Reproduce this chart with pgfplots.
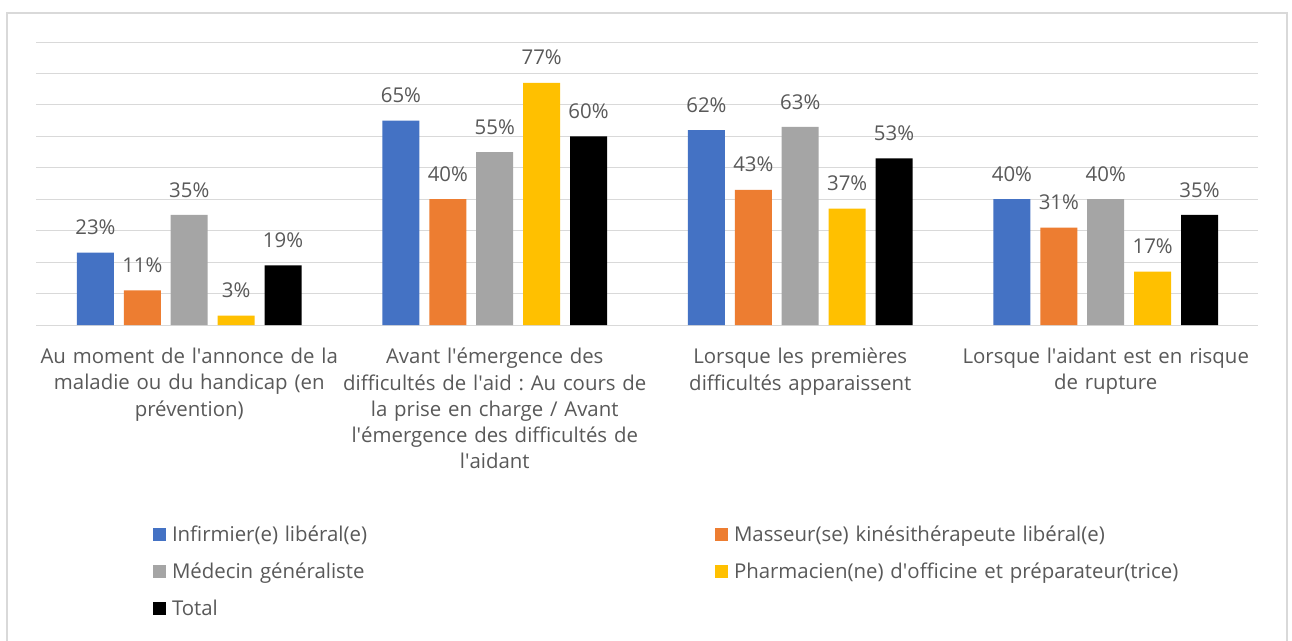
\documentclass[border=0pt]{standalone}
\usepackage{fontspec}
\setmainfont{Open Sans}
\usepackage{pgfplots}
\pgfplotsset{compat=1.18}
\definecolor{cblue}{HTML}{4472C4}
\definecolor{corange}{HTML}{ED7D31}
\definecolor{cgray}{HTML}{A5A5A5}
\definecolor{cyellow}{HTML}{FFC000}
\definecolor{cblack}{HTML}{000000}
\definecolor{txt}{HTML}{595959}
\definecolor{grd}{HTML}{D9D9D9}
\newcommand\fs{\fontsize{20.4bp}{26.2bp}\selectfont\frenchspacing}
\newcommand\q{\textquotesingle}
\pgfplotsset{sq/.style={draw=none, legend image code/.code={\fill[##1] (0bp,0bp) rectangle (13bp,13bp);}}}
\begin{document}
\frenchspacing
\begin{tikzpicture}
\useasboundingbox (0,0) rectangle (1292bp,-641bp);
\fill[white] (0,0) rectangle (1292bp,-641bp);
\draw[grd, line width=1.3bp] (7bp,-13bp) rectangle (1287bp,-700bp);
\begin{axis}[
  at={(36.5bp,-325bp)}, anchor=south west,
  scale only axis, width=1222bp, height=283bp,
  xmin=-0.5, xmax=3.5, ymin=0, ymax=90,
  ybar=9.9bp, bar width=37bp,
  xtick={0,1,2,3},
  xticklabels={{Au moment de l\q annonce de la\\maladie ou du handicap (en\\prévention)},
    {Avant l\q émergence des\\difficultés de l\q aid : Au cours de\\la prise en charge / Avant\\l\q émergence des difficultés de\\l\q aidant},
    {Lorsque les premières\\difficultés apparaissent},
    {Lorsque l\q aidant est en risque\\de rupture}},
  ytick={0,10,...,90}, yticklabels={},
  ymajorgrids, grid style={grd, line width=1bp},
  axis line style={draw=none}, major tick length=0pt, tick style={draw=none},
  xticklabel style={text width=330bp, align=center, font=\fs, text=txt, inner sep=0pt, anchor=north, yshift=-23bp},
  nodes near coords={\pgfmathprintnumber{\pgfplotspointmeta}\%},
  every node near coord/.append style={font=\fs, text=txt, inner sep=0pt, yshift=17.5bp},
  /pgf/number format/assume math mode=true,
  clip=false,
  legend columns=2,
  legend style={at={(0.09534,-0.7138)}, anchor=north west, draw=none, fill=none,
    inner sep=0pt, outer sep=0pt, row sep=18bp,
    nodes={anchor=base west, text width=537bp, align=left, inner xsep=6bp, inner ysep=0pt,
      text height=14bp, text depth=5bp, font=\fs, text=txt},
    /tikz/every even column/.append style={column sep=0pt}},
]
\addplot[sq, fill=cblue] coordinates {(0,23) (1,65) (2,62) (3,40)};
\addplot[sq, fill=corange] coordinates {(0,11) (1,40) (2,43) (3,31)};
\addplot[sq, fill=cgray] coordinates {(0,35) (1,55) (2,63) (3,40)};
\addplot[sq, fill=cyellow] coordinates {(0,3) (1,77) (2,37) (3,17)};
\addplot[sq, fill=cblack] coordinates {(0,19) (1,60) (2,53) (3,35)};
\legend{Infirmier(e) libéral(e), Masseur(se) kinésithérapeute libéral(e), Médecin généraliste, Pharmacien(ne) d\q officine et préparateur(trice), Total}
\end{axis}
\end{tikzpicture}
\end{document}
